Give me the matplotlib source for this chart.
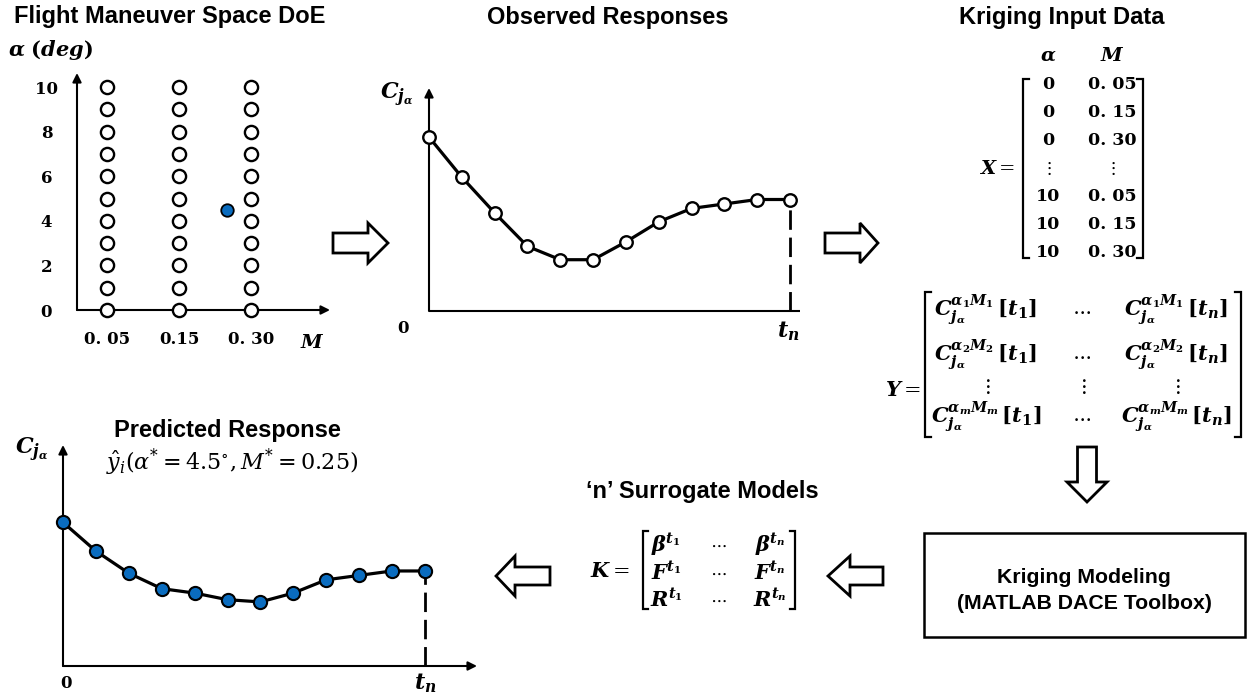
import numpy as np
import matplotlib
matplotlib.use('Agg')
import matplotlib.pyplot as plt
from matplotlib.patches import Polygon, Rectangle

plt.rcParams['mathtext.fontset'] = 'dejavuserif'

W, H = 1253, 694

# Design of experiments over the flight maneuver space
alpha_levels = [0, 1, 2, 3, 4, 5, 6, 7, 8, 9, 10]
alpha_ticks = [0, 2, 4, 6, 8, 10]
mach_levels = [0.05, 0.15, 0.30]
mach_labels = ['0. 05', '0.15', '0. 30']
query_alpha = 4.5
query_mach = 0.25

# Coefficient time histories (normalised to the axis height)
observed = [0.78, 0.60, 0.44, 0.29, 0.23, 0.23, 0.31, 0.40, 0.46, 0.48, 0.50, 0.50]
predicted = [0.65, 0.52, 0.42, 0.35, 0.33, 0.30, 0.29, 0.33, 0.39, 0.41, 0.43, 0.43]

BLUE = '#0A6CBF'
SANS = 'Liberation Sans'
SERIF = 'DejaVu Serif'

fig = plt.figure(figsize=(W / 100, H / 100), dpi=100)
bg = fig.add_axes([0, 0, 1, 1])
bg.set_xlim(0, W)
bg.set_ylim(H, 0)
bg.axis('off')


def px_axes(x0, y0, x1, y1):
    ax = fig.add_axes([x0 / W, 1 - y1 / H, (x1 - x0) / W, (y1 - y0) / H])
    ax.patch.set_alpha(0)
    for s in ax.spines.values():
        s.set_visible(False)
    ax.set_xticks([])
    ax.set_yticks([])
    return ax


def axis_arrows(ax, x_head=True):
    kw = dict(xycoords='axes fraction', textcoords='axes fraction',
              annotation_clip=False)
    head = dict(arrowstyle='-|>', lw=1.5, color='k', shrinkA=0, shrinkB=0,
                mutation_scale=13)
    ax.annotate('', xy=(0, 1), xytext=(0, 0), arrowprops=head, **kw)
    if x_head:
        ax.annotate('', xy=(1, 0), xytext=(0, 0), arrowprops=head, **kw)
    else:
        ax.plot([0, 1], [0, 0], color='k', lw=1.5, transform=ax.transAxes,
                clip_on=False, solid_capstyle='butt')


def hollow_arrow(pts):
    bg.add_patch(Polygon(pts, closed=True, facecolor='white', edgecolor='k',
                         lw=2.0, joinstyle='miter'))


def right_arrow(x0, xb, xt, yc, th=10, hh=20):
    hollow_arrow([(x0, yc - th), (xb, yc - th), (xb, yc - hh), (xt, yc),
                  (xb, yc + hh), (xb, yc + th), (x0, yc + th)])


def down_arrow(xc, y0, yb, yt, tw=9.5, hw=20):
    hollow_arrow([(xc - tw, y0), (xc - tw, yb), (xc - hw, yb), (xc, yt),
                  (xc + hw, yb), (xc + tw, yb), (xc + tw, y0)])


def bracket(x, y0, y1, side, serif=6, lw=1.6):
    d = serif if side == 'left' else -serif
    bg.plot([x + d, x, x, x + d], [y0, y0, y1, y1], color='k', lw=lw,
            solid_joinstyle='miter')


def bi(s):
    return r'\mathbfit{%s}' % s


def sub_tok(s):
    return r'\mathbf{%s}' % s if s.isdigit() else bi(s)


title_kw = dict(family=SANS, weight='bold', fontsize=17, ha='center',
                va='baseline')
serif_b = dict(family=SERIF, weight='bold')
C_LABEL = r'$' + bi('C') + r'_{' + bi('j') + r'_{' + bi(r'\alpha') + r'}}$'
TN_LABEL = r'$' + bi('t') + r'_{' + bi('n') + r'}$'

# ---------------- Flight maneuver space DoE ----------------
bg.text(170, 23, 'Flight Maneuver Space DoE', **title_kw)
bg.text(50, 50, r'$' + bi(r'\alpha') + r'\ \mathbf{(}' + bi('deg') +
        r'\mathbf{)}$', fontsize=15, ha='center', va='center')

ax1 = px_axes(77, 73, 330, 310)
positions = np.arange(len(mach_levels))
ax1.set_xlim(-30 / 72, 223 / 72)
ax1.set_ylim(0, 237 / 22.3)
axis_arrows(ax1)
for p in positions:
    ax1.plot([p] * len(alpha_levels), alpha_levels, 'o', ms=9.5,
             mfc='white', mec='k', mew=1.7, clip_on=False, zorder=3)
query_pos = np.interp(query_mach, mach_levels, positions)
ax1.plot(query_pos, query_alpha, 'o', ms=9, mfc=BLUE, mec='k', mew=1.3,
         clip_on=False, zorder=3)
ax1.set_yticks(alpha_ticks)
ax1.set_yticklabels([str(a) for a in alpha_ticks], ha='center', fontsize=12,
                    **serif_b)
ax1.set_xticks(positions)
ax1.set_xticklabels(mach_labels, fontsize=12, **serif_b)
ax1.tick_params(axis='y', length=0, pad=22)
ax1.tick_params(axis='x', length=0, pad=15)
bg.text(312, 342, '$' + bi('M') + '$', fontsize=14, ha='center', va='center')

# ---------------- Observed responses ----------------
bg.text(608, 24, 'Observed Responses', **title_kw)
t_obs = np.arange(len(observed))
ax2 = px_axes(429, 88, 800, 311)
ax2.set_xlim(0, 371 / 32.82)
ax2.set_ylim(0, 1)
axis_arrows(ax2, x_head=False)
ax2.plot(t_obs, observed, '-o', color='k', lw=2.3, ms=9, mfc='white',
         mec='k', mew=1.7, clip_on=False, zorder=3)
ax2.plot([t_obs[-1]] * 2, [0, observed[-1]], color='k', lw=2.0,
         ls=(0, (7, 2.8)), zorder=2)
bg.text(397, 95, C_LABEL, fontsize=16, ha='center', va='center')
bg.text(403, 328, '0', fontsize=12, ha='center', va='center', **serif_b)
bg.text(788, 331, TN_LABEL, fontsize=16, ha='center', va='center')

right_arrow(333, 368, 388, 243)

# ---------------- Kriging input data ----------------
bg.text(1062, 24, 'Kriging Input Data', **title_kw)
x_col_a, x_col_m = 1048, 1112
bg.text(x_col_a, 55, '$' + bi(r'\alpha') + '$', fontsize=14, ha='center',
        va='center')
bg.text(x_col_m, 55, '$' + bi('M') + '$', fontsize=14, ha='center',
        va='center')
x_rows = [(alpha_levels[0], m) for m in mach_levels] + [None] + \
         [(alpha_levels[-1], m) for m in mach_levels]
row_y = [84, 112, 140, 168, 196, 224, 252]
for y, row in zip(row_y, x_rows):
    if row is None:
        bg.text(x_col_a, y, r'$\vdots$', fontsize=13, ha='center', va='center')
        bg.text(x_col_m, y, r'$\vdots$', fontsize=13, ha='center', va='center')
    else:
        a, m = row
        bg.text(x_col_a, y, str(a), fontsize=12.5, ha='center', va='center',
                **serif_b)
        bg.text(x_col_m, y, f'{m:.2f}'.replace('.', '. '), fontsize=12.5,
                ha='center', va='center', **serif_b)
bracket(1023, 79, 258, 'left')
bracket(1143, 79, 258, 'right')
bg.text(997, 168, '$' + bi('X') + ' =$', fontsize=14, ha='center',
        va='center')

right_arrow(825, 860, 878, 243)


def c_cell(a, m, t):
    sup = bi(r'\alpha') + '_{' + sub_tok(a) + '}' + bi('M') + '_{' + \
        sub_tok(m) + '}'
    return (r'$' + bi('C') + r'_{' + bi('j') + '_{' + bi(r'\alpha') + '}}^{' +
            sup + r'}\,\mathbf{[}' + bi('t') + '_{' + sub_tok(t) +
            r'}\mathbf{]}$')


y_rows = [('1', 310), ('2', 355), (None, 386), ('m', 417)]
y_cols = [(986, '1'), (1082, None), (1176, 'n')]
for k, yy in y_rows:
    for xx, t in y_cols:
        if k is None:
            s = r'$\vdots$'
        elif t is None:
            s = r'$\cdots$'
        else:
            s = c_cell(k, k, t)
        bg.text(xx, yy, s, fontsize=15, ha='center', va='center')
bracket(925, 292, 437, 'left')
bracket(1241, 292, 437, 'right')
bg.text(903, 390, '$' + bi('Y') + ' =$', fontsize=15, ha='center',
        va='center')

down_arrow(1087, 447, 482, 502)

# ---------------- Kriging modeling block ----------------
bg.add_patch(Rectangle((924, 533), 321, 104, facecolor='white',
                       edgecolor='k', lw=1.8))
bg.text(1084, 583, 'Kriging Modeling', family=SANS, weight='bold',
        fontsize=15.3, ha='center', va='baseline')
bg.text(1084, 609, '(MATLAB DACE Toolbox)', family=SANS, weight='bold',
        fontsize=15.3, ha='center', va='baseline')

right_arrow(883, 850, 828, 576, th=9)

# ---------------- Surrogate models ----------------
bg.text(702, 498, '\u2018n\u2019 Surrogate Models', **title_kw)
k_rows = [(r'\beta', 545), ('F', 573), ('R', 600)]
for sym, yy in k_rows:
    bg.text(666, yy, '$' + bi(sym) + '^{' + bi('t') + r'_{\mathbf{1}}}$',
            fontsize=15, ha='center', va='center')
    bg.text(718, yy, r'$\cdots$', fontsize=13, ha='center', va='center')
    bg.text(770, yy, '$' + bi(sym) + '^{' + bi('t') + '_{' + bi('n') + '}}$',
            fontsize=15, ha='center', va='center')
bracket(643, 531, 609, 'left', serif=5)
bracket(795, 531, 609, 'right', serif=5)
bg.text(610, 571, '$' + bi('K') + ' =$', fontsize=15, ha='center',
        va='center')

right_arrow(550, 515, 496, 576, th=9)

# ---------------- Predicted response ----------------
bg.text(227, 437, 'Predicted Response', **title_kw)
bg.text(232, 462, r'$\hat{y}_i\left(\alpha^{*} = 4.5^{\circ}, M^{*} = 0.25\right)$',
        fontsize=16, ha='center', va='center')
t_pred = np.arange(len(predicted))
ax3 = px_axes(63, 445, 477, 666)
ax3.set_xlim(0, 414 / 32.9)
ax3.set_ylim(0, 1)
axis_arrows(ax3)
ax3.plot(t_pred, predicted, '-o', color='k', lw=2.3, ms=9.5, mfc=BLUE,
         mec='k', mew=1.5, clip_on=False, zorder=3)
ax3.plot([t_pred[-1]] * 2, [0, predicted[-1]], color='k', lw=2.0,
         ls=(0, (7, 2.8)), zorder=2)
bg.text(32, 450, C_LABEL, fontsize=16, ha='center', va='center')
bg.text(66, 683, '0', fontsize=12, ha='center', va='center', **serif_b)
bg.text(425, 683, TN_LABEL, fontsize=16, ha='center', va='center')

fig.savefig('out.png', dpi=100, facecolor='white')
